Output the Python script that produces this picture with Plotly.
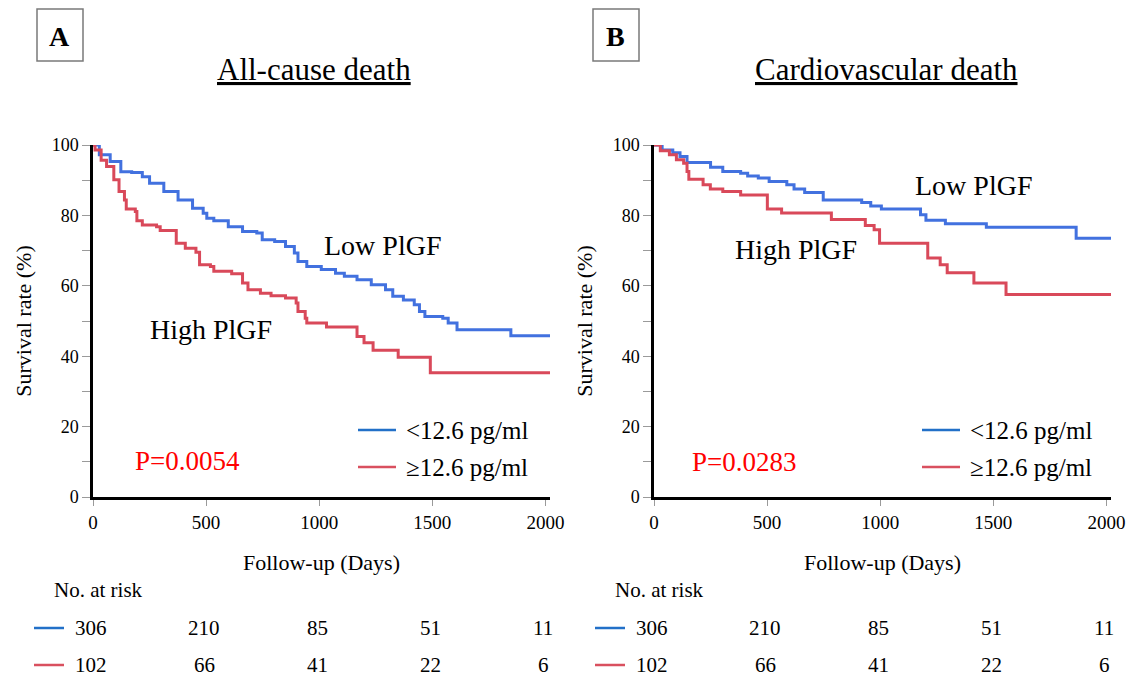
import plotly.graph_objects as go

W, H = 1126, 676
FONT = "Liberation Serif"

# ---------------- data ----------------
a_low_days = [0, 28, 76, 123, 171, 218, 250, 313, 376, 440, 487, 503, 534, 598, 661, 724, 748, 803, 851,
              890, 906, 945, 1009, 1072, 1111, 1167, 1230, 1293, 1325, 1372, 1420, 1443, 1467, 1546, 1570,
              1609, 1847, 2020]
a_low_surv = [100, 97.2, 95.3, 92.4, 92.2, 91, 89.1, 86.8, 84.4, 82, 80.6, 79.2, 78.5, 76.8, 75.4, 75, 73.1,
              72.6, 71.2, 69.3, 66.9, 65.5, 64.6, 63.6, 62.7, 61.7, 60.3, 58.9, 57, 56, 54.6, 52.7, 51.3,
              50.8, 49.4, 47.5, 45.8, 45.8]

a_high_days = [0, 9, 36, 60, 92, 115, 139, 147, 187, 194, 218, 281, 297, 368, 408, 455, 471, 519, 534, 613,
               661, 685, 740, 787, 851, 898, 906, 938, 945, 1032, 1167, 1198, 1238, 1349, 1491, 2020]
a_high_surv = [100, 98.6, 95.7, 93.9, 90.1, 86.8, 84.4, 81.8, 81.1, 78.5, 77.3, 76.8, 75.7, 72.1, 70.7, 69.5,
               66, 65.5, 64.1, 63.4, 60.8, 58.9, 57.9, 57.2, 56.5, 55.1, 52.7, 50.8, 49.4, 48.3, 45.6, 43.8,
               41.7, 39.7, 35.3, 35.3]

b_low_days = [0, 36, 83, 115, 146, 250, 304, 383, 414, 461, 509, 587, 619, 666, 748, 918, 958, 1005, 1178,
              1202, 1288, 1469, 1866, 2020]
b_low_surv = [100, 98.6, 97.8, 96.7, 95, 93.7, 92.5, 92, 91.2, 90.6, 89.6, 88.7, 87.5, 86.5, 84.4, 83.7,
              82.7, 81.8, 80.2, 78.6, 77.6, 76.6, 73.5, 73.5]

b_high_days = [0, 28, 68, 99, 131, 146, 154, 217, 249, 304, 383, 501, 564, 784, 934, 973, 997, 1210, 1265,
               1296, 1414, 1556, 2020]
b_high_surv = [100, 98.4, 97.2, 95.8, 94.8, 92.5, 90.3, 88.7, 87.5, 86.8, 85.8, 81.8, 80.7, 78.8, 77.1,
               75.9, 72.1, 67.9, 66, 63.7, 60.8, 57.5, 57.5]

risk_days = [0, 500, 1000, 1500, 2000]
a_risk_low = [306, 210, 85, 51, 11]
a_risk_high = [102, 66, 41, 22, 6]
b_risk_low = [306, 210, 85, 51, 11]
b_risk_high = [102, 66, 41, 22, 6]

x_ticks = [0, 500, 1000, 1500, 2000]
y_ticks = [0, 20, 40, 60, 80, 100]
y_minor = [10, 30, 50, 70, 90]

series_names = ["<12.6 pg/ml", "\u226512.6 pg/ml"]
panel_letters = ["A", "B"]
panel_titles = ["All-cause death", "Cardiovascular death"]
p_values = ["P=0.0054", "P=0.0283"]

BLUE = "#4271DF"
RED = "#D9495A"
BLUE_LEG = "#2270C8"
RED_LEG = "#D9505F"


def px(x):
    """window pixel x -> paper fraction"""
    return x / W


def py(y):
    """window pixel y -> paper fraction"""
    return 1 - y / H


fig = go.Figure()

panels = [
    dict(xa="x", ya="y", low=(a_low_days, a_low_surv), high=(a_high_days, a_high_surv),
         rl=a_risk_low, rh=a_risk_high),
    dict(xa="x2", ya="y2", low=(b_low_days, b_low_surv), high=(b_high_days, b_high_surv),
         rl=b_risk_low, rh=b_risk_high),
]

for p in panels:
    fig.add_trace(go.Scatter(x=p["low"][0], y=p["low"][1], mode="lines", line_shape="hv",
                             line=dict(color=BLUE, width=3), name=series_names[0],
                             xaxis=p["xa"], yaxis=p["ya"], showlegend=False))
    fig.add_trace(go.Scatter(x=p["high"][0], y=p["high"][1], mode="lines", line_shape="hv",
                             line=dict(color=RED, width=3), name=series_names[1],
                             xaxis=p["xa"], yaxis=p["ya"], showlegend=False))

# plot geometry (window pixels)
plot_left = [93, 654]
plot_right = [550, 1111]
plot_top, plot_bottom = 145, 497

axis_common_x = dict(range=[0, 2020], tickvals=x_ticks, ticks="outside", ticklen=6, tickwidth=1,
                     tickcolor="#9a9a9a", showline=True, linecolor="black", linewidth=2.5,
                     showgrid=False, zeroline=False, automargin=False,
                     tickfont=dict(family=FONT, size=19, color="black"),
                     title=dict(text="Follow-up (Days)", font=dict(family=FONT, size=22, color="black"),
                                standoff=24))
axis_common_y = dict(range=[0, 100], tickvals=y_ticks, ticks="outside", ticklen=8, tickwidth=1,
                     tickcolor="#9a9a9a", showline=True, linecolor="black", linewidth=2.5,
                     showgrid=False, zeroline=False, automargin=False,
                     tickfont=dict(family=FONT, size=18, color="black"),
                     minor=dict(tickvals=y_minor, ticks="outside", ticklen=8, tickwidth=1, tickcolor="#9a9a9a"),
                     title=dict(text="Survival rate (%)", font=dict(family=FONT, size=22, color="black"),
                                standoff=14))

ydom = [py(plot_bottom), py(plot_top)]
fig.update_layout(
    width=W, height=H, margin=dict(l=0, r=0, t=0, b=0, autoexpand=False),
    paper_bgcolor="white", plot_bgcolor="white",
    xaxis=dict(domain=[px(plot_left[0]), px(plot_right[0])], anchor="y", **axis_common_x),
    yaxis=dict(domain=ydom, anchor="x", **axis_common_y),
    xaxis2=dict(domain=[px(plot_left[1]), px(plot_right[1])], anchor="y2", **axis_common_x),
    yaxis2=dict(domain=ydom, anchor="x2", **axis_common_y),
    showlegend=False,
)

annotations = []
shapes = []

# panel boxes, titles
box_left = [37, 593]
title_cx = [314, 886]
for i in range(2):
    shapes.append(dict(type="rect", xref="paper", yref="paper",
                       x0=px(box_left[i]), x1=px(box_left[i] + 46), y0=py(61), y1=py(9),
                       line=dict(color="#7a7a7a", width=1.5)))
    annotations.append(dict(xref="paper", yref="paper", x=px(box_left[i] + 23), y=py(36),
                            text="<b>%s</b>" % panel_letters[i], showarrow=False,
                            font=dict(family=FONT, size=28, color="black"),
                            xanchor="center", yanchor="middle"))
    annotations.append(dict(xref="paper", yref="paper", x=px(title_cx[i]), y=py(70),
                            text="<u>%s</u>" % panel_titles[i], showarrow=False,
                            font=dict(family=FONT, size=31, color="black"),
                            xanchor="center", yanchor="middle"))

# in-plot labels (data coords)
label_pos = [
    dict(low=(1280, 71.5), high=(521, 47.7), p=(419, 10.2)),
    dict(low=(1413, 88.4), high=(627, 70.2), p=(402, 9.9)),
]
for i, p in enumerate(panels):
    lp = label_pos[i]
    annotations.append(dict(xref=p["xa"], yref=p["ya"], x=lp["low"][0], y=lp["low"][1], text="Low PlGF",
                            showarrow=False, font=dict(family=FONT, size=28, color="black")))
    annotations.append(dict(xref=p["xa"], yref=p["ya"], x=lp["high"][0], y=lp["high"][1], text="High PlGF",
                            showarrow=False, font=dict(family=FONT, size=28, color="black")))
    annotations.append(dict(xref=p["xa"], yref=p["ya"], x=lp["p"][0], y=lp["p"][1], text=p_values[i],
                            showarrow=False, font=dict(family=FONT, size=27, color="#FF0000")))

# legends (key lines + text)
leg_x = [358, 922]
leg_y = [430, 467]
leg_cols = [BLUE_LEG, RED_LEG]
for i in range(2):
    for j in range(2):
        shapes.append(dict(type="line", xref="paper", yref="paper",
                           x0=px(leg_x[i]), x1=px(leg_x[i] + 38), y0=py(leg_y[j]), y1=py(leg_y[j]),
                           line=dict(color=leg_cols[j], width=2.5)))
        annotations.append(dict(xref="paper", yref="paper", x=px(leg_x[i] + 46), y=py(leg_y[j]),
                                text=series_names[j], showarrow=False, xanchor="left", yanchor="middle",
                                font=dict(family=FONT, size=25, color="black")))

# number at risk table
nar_x = [52, 613]
risk_rows_y = [628, 665]
for i, p in enumerate(panels):
    annotations.append(dict(xref="paper", yref="paper", x=px(nar_x[i]), y=py(590), text="No. at risk",
                            showarrow=False, xanchor="left", yanchor="middle",
                            font=dict(family=FONT, size=21, color="black")))
    for j, (vals, col) in enumerate(((p["rl"], BLUE_LEG), (p["rh"], RED_LEG))):
        shapes.append(dict(type="line", xref="paper", yref="paper",
                           x0=px(nar_x[i] - 18), x1=px(nar_x[i] + 12), y0=py(risk_rows_y[j]),
                           y1=py(risk_rows_y[j]), line=dict(color=col, width=2.5)))
        for d, v in zip(risk_days, vals):
            annotations.append(dict(xref=p["xa"], yref="paper", x=d, y=py(risk_rows_y[j]), text=str(v),
                                    showarrow=False, xanchor="center", yanchor="middle", xshift=-2,
                                    font=dict(family=FONT, size=21, color="black")))

fig.update_layout(annotations=annotations, shapes=shapes)
# remove the browser's default 8px body margin so the figure fills the window exactly
fig.write_html("out.html", config={"displayModeBar": False},
               post_script="document.body.style.margin='0';document.body.style.overflow='hidden';")
